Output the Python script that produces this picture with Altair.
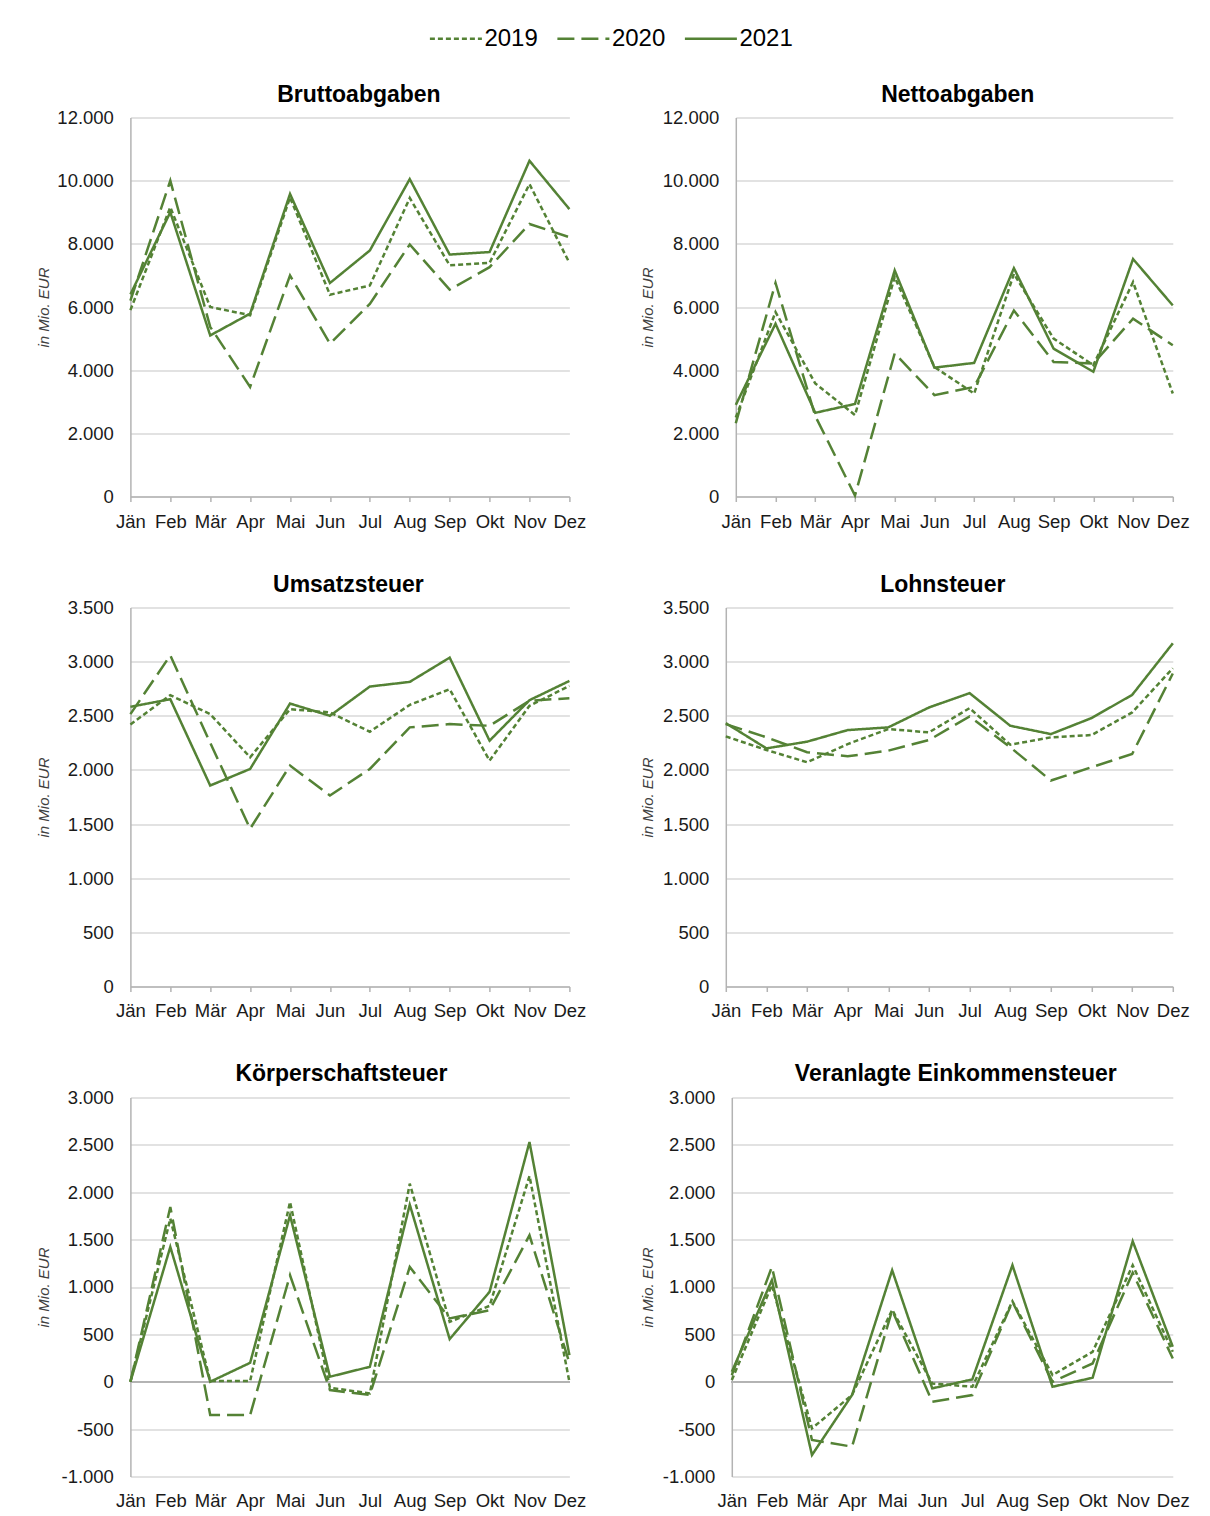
import altair as alt
import pandas as pd

MONTHS = ["Jän", "Feb", "Mär", "Apr", "Mai", "Jun", "Jul", "Aug", "Sep", "Okt", "Nov", "Dez"]
YEARS = ["2019", "2020", "2021"]

# Bruttoabgaben (Mio. EUR)
brutto_2019 = [5900, 9160, 6000, 5740, 9470, 6390, 6680, 9450, 7320, 7400, 9890, 7400]
brutto_2020 = [6200, 10000, 5370, 3470, 7000, 4840, 6100, 7980, 6550, 7260, 8630, 8210]
brutto_2021 = [6400, 9000, 5100, 5790, 9580, 6760, 7790, 10050, 7660, 7740, 10630, 9100]

# Nettoabgaben
netto_2019 = [2500, 5840, 3580, 2580, 6950, 4100, 3260, 7050, 5000, 4160, 6790, 3260]
netto_2020 = [2320, 6760, 2550, 30, 4530, 3210, 3470, 5890, 4260, 4210, 5630, 4790]
netto_2021 = [2900, 5470, 2650, 2930, 7160, 4080, 4230, 7230, 4680, 3950, 7520, 6050]

# Umsatzsteuer
ust_2019 = [2420, 2690, 2515, 2117, 2561, 2531, 2353, 2601, 2745, 2086, 2592, 2776]
ust_2020 = [2515, 3058, 2250, 1457, 2040, 1764, 2009, 2393, 2423, 2408, 2638, 2663]
ust_2021 = [2583, 2653, 1856, 2009, 2613, 2500, 2770, 2813, 3037, 2270, 2644, 2822]

# Lohnsteuer
lst_2019 = [2310, 2184, 2071, 2239, 2377, 2347, 2571, 2233, 2301, 2322, 2531, 2939]
lst_2020 = [2423, 2301, 2163, 2126, 2178, 2276, 2494, 2209, 1902, 2025, 2147, 2890]
lst_2021 = [2432, 2199, 2261, 2368, 2393, 2577, 2709, 2408, 2331, 2479, 2693, 3169]

# Körperschaftsteuer
kst_2019 = [0, 1722, 7, 7, 1897, -63, -123, 2091, 632, 801, 2171, 0]
kst_2020 = [0, 1845, -351, -351, 1124, -88, -140, 1212, 668, 755, 1546, 200]
kst_2021 = [0, 1423, 0, 200, 1757, 53, 158, 1869, 450, 949, 2530, 281]

# Veranlagte Einkommensteuer
est_2019 = [18, 1019, -492, -140, 760, -18, -53, 850, 70, 316, 1230, 316]
est_2020 = [70, 1212, -615, -685, 755, -211, -140, 843, 0, 193, 1150, 246]
est_2021 = [105, 1072, -773, -140, 1177, -70, 25, 1230, -53, 42, 1483, 369]

GREEN = "#548235"
FONT = "Liberation Sans"
LABEL_COLOR = "#1a1a1a"
GRID = "#d9d9d9"
AXIS = "#b3b3b3"
NUM_EXPR = "replace(replace(format(datum.value, ','), ',', '.'), '\u2212', '-')"

LEGEND = alt.Legend(
    orient="none", legendX=298, legendY=-106.5, direction="horizontal", title=None,
    symbolType="stroke", symbolSize=2704, symbolStrokeColor=GREEN,
    labelFont=FONT, labelFontSize=24, labelColor="#000000", labelOffset=1,
    columnPadding=13.5, padding=0,
)


def panel(title, v19, v20, v21, ymin, ymax, step, width, extent, tpad, tdx, zero_line=False):
    df = pd.DataFrame({
        "Monat": MONTHS * 3,
        "Jahr": [y for y in YEARS for _ in MONTHS],
        "Wert": v19 + v20 + v21,
    })
    x_axis = alt.Axis(
        title=None, labelAngle=0, labelFont=FONT, labelFontSize=18.5, labelColor=LABEL_COLOR,
        grid=False, domain=not zero_line, domainColor=AXIS, domainWidth=1.5,
        ticks=not zero_line, tickColor=AXIS, tickSize=5, tickWidth=1.5,
        labelPadding=15.5 if zero_line else 10.5,
    )
    y_axis = alt.Axis(
        title="in Mio. EUR", titleFont=FONT, titleFontSize=15, titleFontStyle="italic",
        titleFontWeight="normal", titleColor="#404040", titlePadding=tpad,
        values=list(range(ymin, ymax + 1, step)), labelExpr=NUM_EXPR,
        labelFont=FONT, labelFontSize=18.5, labelColor=LABEL_COLOR, labelPadding=17,
        ticks=False, tickSize=0, domain=True, domainColor=AXIS, domainWidth=1.5,
        grid=True, gridColor=GRID, gridWidth=1.3,
        minExtent=extent, maxExtent=extent,
    )
    lines = alt.Chart(df).mark_line(color=GREEN).encode(
        x=alt.X("Monat:N", sort=MONTHS, scale=alt.Scale(type="point", padding=0), axis=x_axis),
        y=alt.Y("Wert:Q", scale=alt.Scale(domain=[ymin, ymax], nice=False, zero=False), axis=y_axis),
        strokeDash=alt.StrokeDash(
            "Jahr:N",
            scale=alt.Scale(domain=YEARS, range=[[5, 3], [17, 7], [1, 0]]),
            legend=LEGEND,
        ),
        strokeWidth=alt.StrokeWidth(
            "Jahr:N",
            scale=alt.Scale(domain=YEARS, range=[2.5, 2.5, 3.6]),
            legend=LEGEND,
        ),
    )
    if zero_line:
        rule = alt.Chart(df).mark_rule(color=AXIS, strokeWidth=1.5).encode(y=alt.datum(0))
        chart = alt.layer(rule, lines)
    else:
        chart = lines
    return chart.properties(
        width=width, height=379,
        title=alt.TitleParams(
            text=title, font=FONT, fontSize=23, fontWeight="bold", color="#000000",
            anchor="middle", frame="group", baseline="bottom", offset=-21, dx=tdx,
        ),
    )


p1 = panel("Bruttoabgaben", brutto_2019, brutto_2020, brutto_2021, 0, 12000, 2000, 439, 74, 4.6, 9)
p2 = panel("Nettoabgaben", netto_2019, netto_2020, netto_2021, 0, 12000, 2000, 437, 75, 5.6, 3.5)
p3 = panel("Umsatzsteuer", ust_2019, ust_2020, ust_2021, 0, 3500, 500, 439, 64, 14.6, -1.5)
p4 = panel("Lohnsteuer", lst_2019, lst_2020, lst_2021, 0, 3500, 500, 447, 64, 6.6, -6.5)
p5 = panel("Körperschaftsteuer", kst_2019, kst_2020, kst_2021, -1000, 3000, 500, 439, 70, 8.6, -8.5, zero_line=True)
p6 = panel("Veranlagte Einkommensteuer", est_2019, est_2020, est_2021, -1000, 3000, 500, 441, 70, 6.6, 3.5, zero_line=True)

chart = alt.concat(
    p1, p2, p3, p4, p5, p6,
    columns=2, align="none", spacing={"row": 43, "column": 53.4},
).properties(
    padding={"left": 28.4, "top": 2.5, "right": 5, "bottom": 0}
).configure_view(stroke=None)

chart.save("out.html", embed_options={"renderer": "svg", "actions": False})
